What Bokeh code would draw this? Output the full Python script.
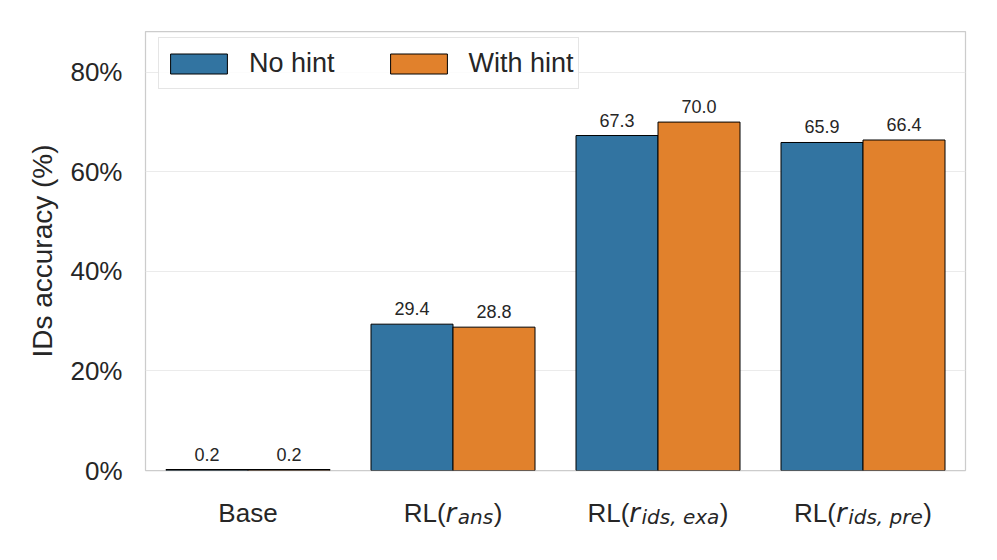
import numpy as np
from bokeh.plotting import figure
from bokeh.layouts import column
from bokeh.models import (ColumnDataSource, Range1d, FixedTicker, LabelSet,
                          Legend, LegendItem)
from bokeh.core.properties import value
from bokeh.embed import file_html
from bokeh.resources import INLINE

# ---------------- data ----------------
categories = ["Base", "RL(r_ans)", "RL(r_ids,exa)", "RL(r_ids,pre)"]
label_prefix = ["Base", "RL(", "RL(", "RL("]
label_var = ["", "r", "r", "r"]
label_sub = ["", "ans", "ids, exa", "ids, pre"]
label_suffix = ["", ")", ")", ")"]
no_hint = [0.2, 29.4, 67.3, 65.9]
with_hint = [0.2, 28.8, 70.0, 66.4]
series_names = ["No hint", "With hint"]
y_ticks = [0, 20, 40, 60, 80]
y_tick_labels = ["0%", "20%", "40%", "60%", "80%"]

# ---------------- styles ----------------
BLUE = "#3274a1"
ORANGE = "#e1812c"
TXT = "#262626"
FONT = "Liberation Sans"
MATH = "DejaVu Sans"
MAIN_PX = 26
SUB_PX = 20
W, H = 981, 544
LEFT, RIGHT, TOP = 145, 16, 31
FRAME_H = 439
PB = 16                       # bottom border of the main figure
Q_H = H - (TOP + FRAME_H + PB)

x_idx = np.arange(len(categories))
bar_w = 0.4
xr = Range1d(-0.5, len(categories) - 0.5)

p = figure(width=W, height=TOP + FRAME_H + PB, output_backend="svg", toolbar_location=None,
           title=None, x_range=xr, y_range=Range1d(0, 88.2),
           min_border_left=LEFT, min_border_right=RIGHT, min_border_top=TOP,
           min_border_bottom=PB)
p.background_fill_color = "white"
p.border_fill_color = "white"
p.outline_line_color = "#cccccc"
p.outline_line_width = 1.25

p.xaxis.visible = False
p.xgrid.visible = False
p.ygrid.grid_line_color = "#ebebeb"
p.ygrid.grid_line_width = 1
p.ygrid.ticker = FixedTicker(ticks=y_ticks)

ya = p.yaxis[0]
ya.ticker = FixedTicker(ticks=y_ticks)
ya.major_label_overrides = {t: l for t, l in zip(y_ticks, y_tick_labels)}
ya.axis_line_color = None
ya.major_tick_line_color = None
ya.minor_tick_line_color = None
ya.major_label_standoff = 17
ya.major_label_text_font = FONT
ya.major_label_text_font_size = f"{MAIN_PX}px"
ya.major_label_text_color = TXT
ya.axis_label = "IDs accuracy (%)"
ya.axis_label_text_font = FONT
ya.axis_label_text_font_size = "28px"
ya.axis_label_text_font_style = "normal"
ya.axis_label_text_color = TXT
ya.axis_label_standoff = 9

src_a = ColumnDataSource(dict(x=x_idx - bar_w / 2, top=no_hint,
                              txt=[f"{v:.1f}" for v in no_hint]))
src_b = ColumnDataSource(dict(x=x_idx + bar_w / 2, top=with_hint,
                              txt=[f"{v:.1f}" for v in with_hint]))

ra = p.vbar(x="x", top="top", width=bar_w, bottom=0, source=src_a,
            fill_color=BLUE, line_color="black", line_width=1)
rb = p.vbar(x="x", top="top", width=bar_w, bottom=0, source=src_b,
            fill_color=ORANGE, line_color="black", line_width=1)

for s in (src_a, src_b):
    p.add_layout(LabelSet(x="x", y="top", text="txt", source=s, y_offset=9,
                          text_align="center", text_baseline="alphabetic",
                          text_font=value(FONT), text_font_size=value("18px"),
                          text_color=value(TXT)))

# ---------------- legend ----------------
legend = Legend(items=[LegendItem(label=series_names[0], renderers=[ra]),
                       LegendItem(label=series_names[1], renderers=[rb])],
                orientation="horizontal", margin=0)
legend.location = (13, FRAME_H - 58)
legend.glyph_width = 71
legend.glyph_height = 25
legend.label_standoff = 15
legend.label_height = 42
legend.spacing = 48
legend.padding = 4
legend.label_text_font = FONT
legend.label_text_font_size = "27px"
legend.label_text_color = TXT
legend.border_line_color = "#cccccc"
legend.border_line_width = 1.25
legend.background_fill_color = "white"
legend.background_fill_alpha = 0.85
p.add_layout(legend, "center")

# ---------------- x tick labels strip (mathtext-like subscripts) ----------------
q = figure(width=W, height=Q_H, output_backend="svg", toolbar_location=None,
           title=None, x_range=xr, y_range=Range1d(0, Q_H),
           x_axis_type=None, y_axis_type=None,
           min_border_left=LEFT, min_border_right=RIGHT, min_border_top=0,
           min_border_bottom=0)
q.grid.visible = False
q.outline_line_color = None
q.background_fill_color = "white"
q.border_fill_color = "white"

ARIAL_W = {"R": .722, "L": .556, "(": .333, ")": .333, "B": .667, "a": .556,
           "s": .5, "e": .556}
DV_W = {"r": .411, "a": .613, "n": .634, "s": .521, "i": .278, "d": .635,
        ",": .318, " ": .318, "e": .615, "x": .592, "p": .635}


def w_arial(t, px):
    return sum(ARIAL_W.get(c, .556) for c in t) * px


def w_dv(t, px):
    return sum(DV_W.get(c, .6) for c in t) * px


BASELINE = Q_H - (42 - PB)    # baseline 42px below the frame bottom
SUB_DROP = 4
for i in range(len(categories)):
    if not label_var[i]:
        q.text(x=[x_idx[i]], y=[BASELINE], text=[label_prefix[i]], text_align="center",
               text_baseline="alphabetic", text_font=value(FONT),
               text_font_size=value(f"{MAIN_PX}px"), text_color=TXT)
        continue
    parts = [
        (label_prefix[i], FONT, MAIN_PX, "normal", 0, w_arial(label_prefix[i], MAIN_PX)),
        (label_var[i], MATH, MAIN_PX, "italic", 0, w_dv(label_var[i], MAIN_PX) + 1.5),
        (label_sub[i], MATH, SUB_PX, "italic", SUB_DROP, w_dv(label_sub[i], SUB_PX) + 0.5),
        (label_suffix[i], FONT, MAIN_PX, "normal", 0, w_arial(label_suffix[i], MAIN_PX)),
    ]
    total = sum(pt[5] for pt in parts)
    off = -total / 2
    for txt, fnt, px, sty, dy, w in parts:
        q.text(x=[x_idx[i]], y=[BASELINE - dy], text=[txt], text_align="left",
               text_baseline="alphabetic", x_offset=off,
               text_font=value(fnt), text_font_size=value(f"{px}px"),
               text_font_style=sty, text_color=TXT)
        off += w

layout = column(p, q, spacing=0)
open("out.html", "w").write(file_html(layout, INLINE))
